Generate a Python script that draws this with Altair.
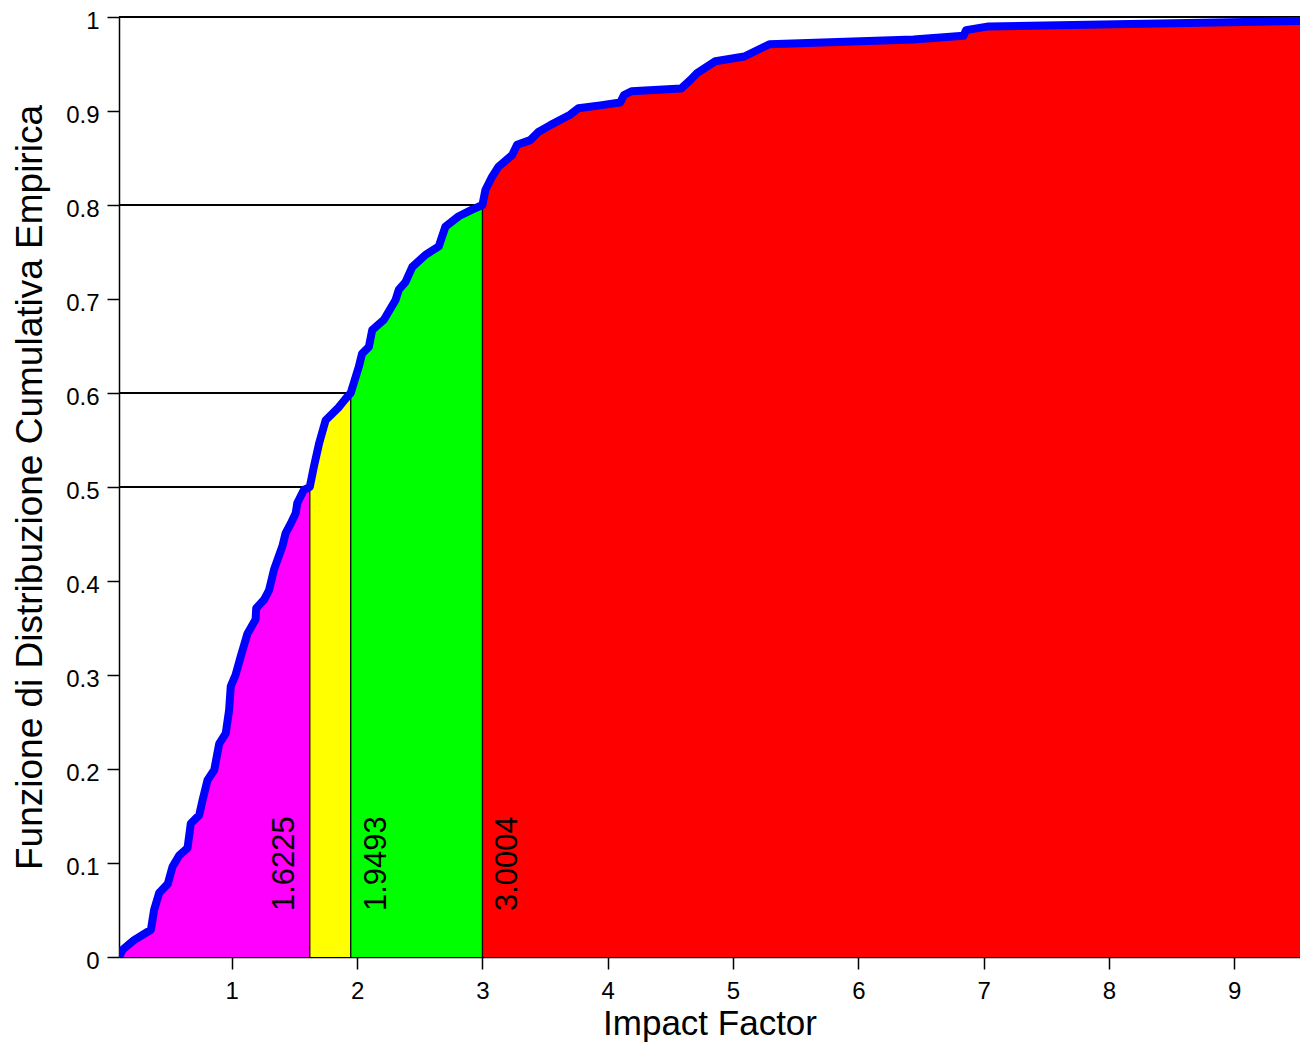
import altair as alt
import pandas as pd

# ---- data ----
curve_x = [0.100, 0.130, 0.220, 0.355, 0.380, 0.420, 0.490, 0.527, 0.580, 0.647,
           0.673, 0.740, 0.767, 0.806, 0.860, 0.900, 0.952, 0.979, 0.992, 1.030,
           1.070, 1.125, 1.190, 1.195, 1.257, 1.297, 1.337, 1.404, 1.430, 1.470,
           1.510, 1.523, 1.576, 1.6225, 1.656, 1.696, 1.749, 1.855, 1.915, 1.9493,
           2.014, 2.040, 2.094, 2.121, 2.214, 2.307, 2.333, 2.386, 2.440, 2.546,
           2.652, 2.705, 2.811, 2.918, 3.0004, 3.024, 3.077, 3.130, 3.237, 3.277,
           3.382, 3.450, 3.542, 3.700, 3.767, 3.940, 4.100, 4.130, 4.190, 4.586,
           4.660, 4.710, 4.860, 5.090, 5.290, 6.440, 6.840, 6.860, 7.040, 9.590]
curve_y = [0.000, 0.008, 0.018, 0.029, 0.050, 0.068, 0.078, 0.096, 0.108, 0.116,
           0.142, 0.151, 0.167, 0.188, 0.199, 0.227, 0.238, 0.263, 0.288, 0.300,
           0.319, 0.344, 0.359, 0.371, 0.380, 0.390, 0.412, 0.437, 0.451, 0.461,
           0.472, 0.483, 0.497, 0.500, 0.522, 0.546, 0.571, 0.585, 0.595, 0.600,
           0.628, 0.642, 0.649, 0.667, 0.678, 0.699, 0.710, 0.718, 0.734, 0.747,
           0.756, 0.777, 0.788, 0.795, 0.800, 0.816, 0.830, 0.841, 0.853, 0.864,
           0.869, 0.878, 0.885, 0.896, 0.903, 0.906, 0.909, 0.917, 0.921, 0.924,
           0.933, 0.940, 0.953, 0.958, 0.971, 0.976, 0.980, 0.986, 0.990, 0.996]

thresholds = [1.6225, 1.9493, 3.0004]
threshold_levels = [0.5, 0.6, 0.8]
threshold_labels = ["1.6225", "1.9493", "3.0004"]
segment_colors = ["#FF00FF", "#FFFF00", "#00FF00", "#FF0000"]
x_ticks = [1, 2, 3, 4, 5, 6, 7, 8, 9]
y_ticks = [0, 0.1, 0.2, 0.3, 0.4, 0.5, 0.6, 0.7, 0.8, 0.9, 1]
X_MIN, X_MAX = 0.10, 9.525   # visible window (page is cut at the right)

FONT = "Liberation Sans"
W, H = 1181, 940

# ---- tables ----
curve = pd.DataFrame({"x": curve_x, "y": curve_y})
bounds = [X_MIN] + thresholds + [curve_x[-1]]
thr = pd.DataFrame({"x": thresholds, "y": threshold_levels, "label": threshold_labels,
                    "x0": [X_MIN] * 3, "y0": [0.0] * 3})

xscale = alt.Scale(domain=[X_MIN, X_MAX], nice=False, zero=False)
yscale = alt.Scale(domain=[0, 1], nice=False, zero=False)

x_axis = alt.Axis(values=x_ticks, format="d", grid=False, title="Impact Factor",
                  labelFont=FONT, labelFontSize=24, labelColor="black", labelPadding=10,
                  titleFont=FONT, titleFontSize=35, titleFontWeight="normal", titleColor="black",
                  titlePadding=3, tickSize=12, tickColor="black", tickWidth=1.5,
                  domainColor="black", domainWidth=1.5)
y_axis = alt.Axis(values=y_ticks, format="~g", grid=False,
                  title="Funzione di Distribuzione Cumulativa Empirica",
                  labelFont=FONT, labelFontSize=24, labelColor="black", labelPadding=8,
                  labelOffset=4,
                  titleFont=FONT, titleFontSize=37, titleFontWeight="normal", titleColor="black",
                  titlePadding=16, tickSize=12, tickColor="black", tickWidth=1.5,
                  domainColor="black", domainWidth=1.5)


def X(field):
    return alt.X(field, scale=xscale, axis=x_axis)


def Y(field, **kw):
    return alt.Y(field, scale=yscale, axis=y_axis, **kw)


areas = []
for i, col in enumerate(segment_colors):
    lo, hi = bounds[i], bounds[i + 1]
    seg = curve[(curve["x"] >= lo - 1e-9) & (curve["x"] <= hi + 1e-9)].reset_index(drop=True)
    a = alt.Chart(seg).mark_area(interpolate="linear", color=col, opacity=1, clip=True).encode(
        x=X("x:Q"),
        y=Y("y:Q", stack=None),
    )
    areas.append(a)

vrules = alt.Chart(thr).mark_rule(color="black", strokeWidth=1.3).encode(
    x=X("x:Q"),
    y=Y("y0:Q"),
    y2="y:Q",
)

hrules = alt.Chart(thr).mark_rule(color="black", strokeWidth=2).encode(
    x=X("x0:Q"),
    x2="x:Q",
    y=Y("y:Q"),
)

top_border = alt.Chart(thr.head(1)).mark_rule(color="black", strokeWidth=2).encode(
    x=alt.value(0), x2=alt.value(W), y=alt.value(0),
)

line = alt.Chart(curve).mark_line(color="#0000FF", strokeWidth=8, strokeJoin="round",
                                  strokeCap="round", clip=True).encode(
    x=X("x:Q"),
    y=Y("y:Q"),
    order="x:Q",
)

label_offsets = [-25, 26, 26]
texts = []
for i in range(len(thresholds)):
    t = alt.Chart(thr.iloc[[i]].reset_index(drop=True)).mark_text(
        angle=270, align="left", baseline="middle", font=FONT, fontSize=31,
        color="black", dx=46, dy=label_offsets[i],
    ).encode(
        x=X("x:Q"),
        y=Y("y0:Q"),
        text="label:N",
    )
    texts.append(t)

chart = alt.layer(*areas, vrules, hrules, top_border, line, *texts).properties(
    width=W, height=H,
    autosize=alt.AutoSizeParams(type="none"),
    padding={"left": 111, "top": 9, "right": 0, "bottom": 85},
).configure_view(stroke=None).configure(background="white")

chart.save("out.html", embed_options={"renderer": "svg", "actions": False})
